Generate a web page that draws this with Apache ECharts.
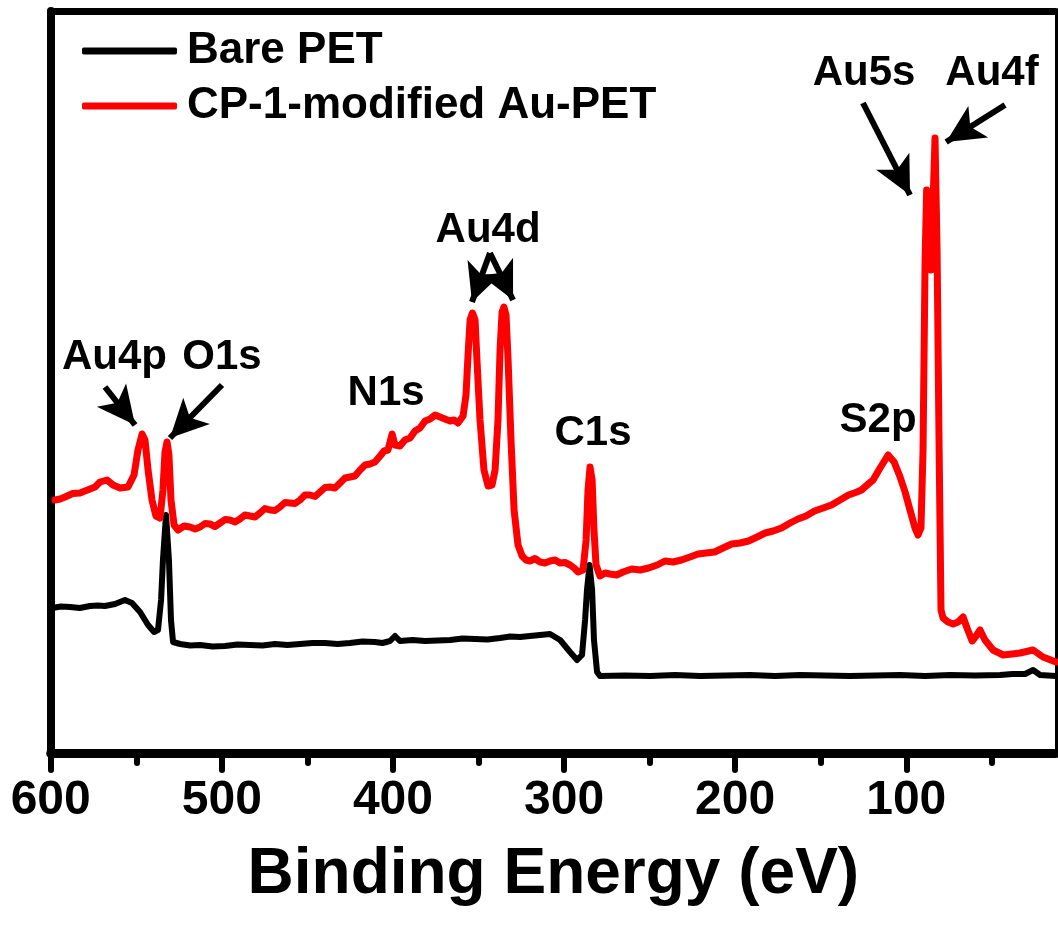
<!DOCTYPE html>
<html>
<head>
<meta charset="utf-8">
<script src="https://cdn.jsdelivr.net/npm/echarts@6/dist/echarts.min.js"></script>
<style>
html,body{margin:0;padding:0;background:#fff;}
#chart{width:1058px;height:925px;}
</style>
</head>
<body>
<div id="chart"></div>
<script>
// ---- Data (Binding energy in eV, intensity in arbitrary units) ----
const bareEnergy = [599.2,594.0,588.7,583.0,577.0,572.5,568.3,562.4,556.6,552.5,547.8,543.1,539.6,537.3,535.5,534.4,532.6,530.9,529.7,528.5,524.4,518.5,512.7,505.4,498.1,490.8,483.5,476.2,468.9,461.6,454.3,447.0,439.7,432.4,425.1,417.8,410.5,406.1,401.7,398.8,395.9,388.5,381.2,373.9,366.6,359.3,352.0,344.7,337.4,331.5,325.7,319.9,314.0,308.2,302.3,296.5,292.4,289.5,287.7,286.6,285.1,283.6,282.5,280.7,279.0,264.3,249.7,235.1,220.5,205.9,191.3,176.7,162.1,147.5,132.9,118.2,103.6,89.0,74.4,59.8,45.2,37.9,30.6,25.9,21.8,17.2,12.5];
const bareIntensity = [29.0,29.3,29.2,29.0,29.4,29.5,29.4,29.8,30.6,30.0,28.2,25.6,24.2,24.6,30.6,38.6,47.6,38.6,26.6,22.2,21.8,21.5,21.6,21.3,21.4,21.7,21.6,21.5,21.8,21.6,21.8,22.0,22.0,21.8,22.0,22.3,22.2,22.0,22.4,23.4,22.4,22.6,22.4,22.5,22.6,22.9,22.8,22.7,23.0,23.3,23.2,23.4,23.6,23.8,22.6,20.2,18.6,19.6,26.6,32.6,37.6,32.6,22.6,16.2,15.4,15.5,15.4,15.6,15.4,15.5,15.6,15.4,15.6,15.5,15.4,15.5,15.6,15.4,15.6,15.5,15.6,15.8,15.8,16.6,15.6,15.5,15.4];

const auEnergy = [597.5,594.5,591.6,587.2,582.9,578.5,574.1,571.2,567.1,563.6,559.5,554.8,551.3,549.0,546.6,544.9,543.1,540.8,538.5,536.1,534.4,533.2,532.0,530.9,529.7,527.9,525.6,522.1,518.6,515.6,512.7,509.8,506.9,504.0,501.0,498.1,495.2,492.3,489.4,486.5,483.5,480.6,477.7,474.8,471.8,468.9,466.0,463.1,460.1,457.2,454.3,451.4,448.5,445.5,442.6,439.7,436.8,433.9,430.9,428.0,425.1,422.2,419.2,416.3,413.4,410.5,407.5,405.2,402.9,400.5,398.8,395.9,393.0,390.0,387.1,384.2,381.2,378.3,375.4,372.5,369.6,366.6,364.3,362.0,359.0,357.3,356.1,354.9,353.5,352.0,350.9,349.1,346.8,344.4,342.1,340.3,338.6,337.4,336.2,335.1,333.9,332.7,331.0,329.2,326.9,324.5,322.2,319.9,317.0,314.0,311.1,308.2,305.2,302.3,299.4,296.5,294.1,291.8,288.9,287.1,286.0,284.8,283.6,282.5,281.3,279.0,276.0,273.1,269.3,265.5,260.5,255.6,250.6,245.6,241.0,236.3,231.4,226.4,221.7,217.0,212.0,207.1,202.1,197.1,192.2,187.2,182.5,177.8,172.9,167.9,163.3,158.6,153.6,148.6,143.7,138.7,133.8,128.8,126.2,123.5,121.5,119.4,115.3,110.6,107.1,103.6,100.7,97.8,94.9,93.1,91.4,90.2,89.0,88.1,86.7,85.5,84.3,83.2,82.0,80.8,79.7,78.5,75.6,72.6,69.7,66.8,64.5,61.5,59.2,56.9,54.0,49.3,43.4,38.2,33.5,25.9,20.1,12.5];
const auIntensity = [50.6,50.8,51.2,51.9,52.0,52.6,53.2,54.2,54.6,53.6,53.0,53.2,55.6,60.6,63.8,62.6,56.6,50.6,47.4,47.0,52.6,60.2,62.2,59.6,50.6,45.6,44.6,45.4,45.2,44.8,45.2,45.9,45.8,45.3,46.0,46.7,46.6,46.2,46.8,47.6,47.4,47.2,48.0,48.9,48.6,48.5,49.2,50.1,50.0,49.9,50.6,51.6,51.6,51.3,52.2,53.1,53.2,53.0,54.0,55.0,55.2,55.4,56.6,57.6,57.8,58.2,59.4,60.4,60.6,63.8,61.6,61.4,62.6,63.0,64.4,65.0,66.4,66.8,67.6,67.2,66.8,66.4,66.6,66.0,67.4,71.6,79.6,86.6,88.0,86.6,78.6,66.6,56.6,53.4,53.6,56.6,66.6,80.6,88.2,89.2,87.6,78.6,62.6,48.6,41.6,39.4,38.6,38.4,38.9,38.2,38.0,38.4,38.6,38.0,38.1,37.6,37.0,36.2,36.6,42.6,52.6,57.2,54.6,44.6,37.6,35.4,36.0,35.8,35.6,36.2,36.8,36.6,37.0,37.6,38.4,38.2,38.6,39.2,39.8,40.0,40.2,41.0,41.8,42.0,42.4,43.2,44.0,44.4,45.0,46.0,46.8,47.4,48.4,49.0,49.6,50.6,51.6,52.2,52.6,53.4,54.0,54.6,57.0,59.6,58.2,55.2,52.2,48.6,45.0,43.6,45.0,60.6,98.6,112.6,101.6,96.6,110.6,123.0,100.6,60.6,28.6,27.0,26.2,25.8,26.2,27.2,25.0,22.4,23.4,24.6,22.6,20.6,19.6,19.8,20.0,20.6,19.2,18.2];

const seriesNames = ['Bare PET', 'CP-1-modified Au-PET'];
const majorTicks = [600, 500, 400, 300, 200, 100];
const minorTicks = [550, 450, 350, 250, 150, 50];

// Peak annotations (label anchor in data coordinates)
const peakNames = ['Au4p', 'O1s', 'N1s', 'Au4d', 'C1s', 'S2p', 'Au5s', 'Au4f'];
const peakLabelEnergy = [562.7, 499.9, 404.0, 344.4, 283.1, 116.5, 124.7, 49.9];
const peakLabelIntensity = [79.2, 79.2, 72.0, 104.6, 64.0, 66.6, 136.0, 136.0];

// Arrows (tail -> head) in data coordinates
const arrowFromEnergy = [568.3, 499.9, 343.3, 343.3, 125.3, 42.3];
const arrowFromIntensity = [73.2, 73.6, 100.0, 100.0, 130.0, 129.6];
const arrowToEnergy = [550.7, 530.3, 353.8, 329.8, 97.8, 76.7];
const arrowToIntensity = [65.6, 63.0, 90.2, 90.6, 111.6, 122.2];

// ---- Build chart ----
const FONT = "'Liberation Sans', Arial, sans-serif";
const chart = echarts.init(document.getElementById('chart'), null, {renderer: 'canvas'});

const pair = (xs, ys) => xs.map((x, i) => [x, ys[i]]);
const peakData = peakNames.map((n, i) => ({name: n, value: [peakLabelEnergy[i], peakLabelIntensity[i]]}));
const arrowData = arrowFromEnergy.map((x, i) => [
  {coord: [x, arrowFromIntensity[i]]},
  {coord: [arrowToEnergy[i], arrowToIntensity[i]]}
]);

const X_MIN = 12.5, X_MAX = 600;

const option = {
  animation: false,
  backgroundColor: '#ffffff',
  textStyle: {fontFamily: FONT},
  grid: {left: 50.7, right: 2, top: 11, bottom: 172, containLabel: false},
  legend: {
    data: seriesNames,
    orient: 'vertical',
    left: 82,
    top: 29,
    padding: 0,
    itemGap: 11,
    itemWidth: 95,
    itemHeight: 7,
    icon: 'roundRect',
    textStyle: {fontSize: 44, fontWeight: 'bold', color: '#000', fontFamily: FONT, padding: [0, 0, 0, 5]}
  },
  xAxis: [
    {
      type: 'value', min: X_MIN, max: X_MAX, inverse: true, position: 'bottom',
      axisLine: {show: true, onZero: false, lineStyle: {color: '#000', width: 9}},
      axisTick: {show: true, customValues: majorTicks, length: 17, inside: false, lineStyle: {color: '#000', width: 6, cap: 'round'}},
      axisLabel: {show: true, customValues: majorTicks, margin: 24, fontSize: 48, fontWeight: 'bold', color: '#000', fontFamily: FONT},
      splitLine: {show: false},
      name: 'Binding Energy (eV)', nameLocation: 'middle', nameGap: 90,
      nameTextStyle: {fontSize: 64, fontWeight: 'bold', color: '#000', fontFamily: FONT}
    },
    {
      type: 'value', min: X_MIN, max: X_MAX, inverse: true, position: 'bottom',
      axisLine: {show: false},
      axisTick: {show: true, customValues: minorTicks, length: 10, lineStyle: {color: '#000', width: 6, cap: 'round'}},
      axisLabel: {show: false},
      splitLine: {show: false}
    },
    {
      type: 'value', min: X_MIN, max: X_MAX, inverse: true, position: 'top',
      axisLine: {show: true, onZero: false, lineStyle: {color: '#000', width: 7}},
      axisTick: {show: false}, axisLabel: {show: false}, splitLine: {show: false}
    }
  ],
  yAxis: [
    {
      type: 'value', min: 0, max: 148.4, position: 'left',
      axisLine: {show: true, onZero: false, lineStyle: {color: '#000', width: 8}},
      axisTick: {show: false}, axisLabel: {show: false}, splitLine: {show: false}
    },
    {
      type: 'value', min: 0, max: 148.4, position: 'right',
      axisLine: {show: true, onZero: false, lineStyle: {color: '#000', width: 3}},
      axisTick: {show: false}, axisLabel: {show: false}, splitLine: {show: false}
    }
  ],
  series: [
    {
      name: seriesNames[0], type: 'line', xAxisIndex: 0, yAxisIndex: 0,
      data: pair(bareEnergy, bareIntensity),
      showSymbol: false, symbol: 'none', smooth: false,
      lineStyle: {color: '#000000', width: 6, join: 'round', cap: 'round'},
      itemStyle: {color: '#000000'}, z: 2
    },
    {
      name: seriesNames[1], type: 'line', xAxisIndex: 0, yAxisIndex: 0,
      data: pair(auEnergy, auIntensity),
      showSymbol: false, symbol: 'none', smooth: false,
      lineStyle: {color: '#ff0000', width: 7, join: 'round', cap: 'round'},
      itemStyle: {color: '#ff0000'}, z: 3
    },
    {
      name: 'annotations', type: 'scatter', xAxisIndex: 0, yAxisIndex: 0,
      data: peakData, symbolSize: 1, itemStyle: {color: '#000000', opacity: 0},
      silent: true, z: 5,
      label: {show: true, position: [0.5, 0.5], align: 'center', verticalAlign: 'middle',
        formatter: '{b}', fontSize: 42, fontWeight: 'bold', color: '#000000', opacity: 1,
        textBorderWidth: 0, fontFamily: FONT},
      markLine: {
        silent: true, animation: false,
        symbol: ['none', 'arrow'], symbolSize: [28, 38],
        label: {show: false},
        lineStyle: {color: '#000000', width: 6, type: 'solid', opacity: 1},
        emphasis: {disabled: true},
        data: arrowData
      }
    }
  ]
};
chart.setOption(option);
</script>
</body>
</html>
